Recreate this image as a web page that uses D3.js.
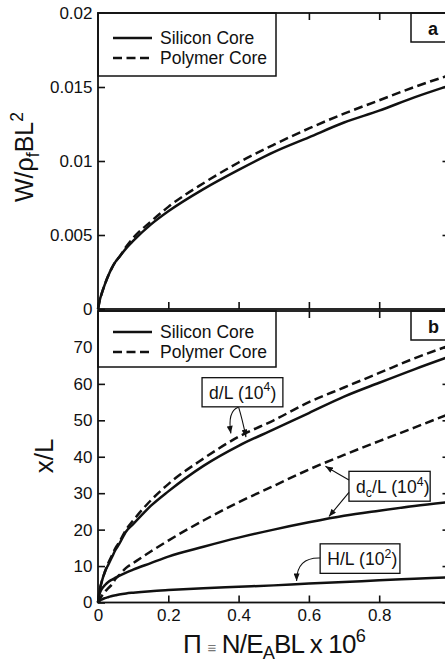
<!DOCTYPE html>
<html>
<head>
<meta charset="utf-8">
<script src="https://cdn.jsdelivr.net/npm/d3@7"></script>
<style>
  body { margin: 0; background: #fff; }
  svg { display: block; }
  text { font-family: "Liberation Sans", Arial, sans-serif; fill: #111; }
</style>
</head>
<body>
<svg id="chart" width="445" height="664"></svg>
<script>
// ---- data ----
const piVals = [0, 0.005, 0.01, 0.02, 0.03, 0.04, 0.05, 0.06, 0.08, 0.1, 0.15, 0.2, 0.3, 0.4, 0.5, 0.6, 0.7, 0.8, 0.9, 1.0];

// panel a : W / rho_f B L^2
const wSilicon = [0, 0.0006, 0.001, 0.0017, 0.0023, 0.0028, 0.0032, 0.0035, 0.0041, 0.0046, 0.0057, 0.0066, 0.0081, 0.0094, 0.0106, 0.0116, 0.0126, 0.0134, 0.0143, 0.0151];
const wPolymer = [0, 0.0006, 0.001, 0.0017, 0.0023, 0.0028, 0.0032, 0.0035, 0.0042, 0.0048, 0.0059, 0.0069, 0.0085, 0.0099, 0.0111, 0.0122, 0.0132, 0.0141, 0.0150, 0.0158];

// panel b : x / L
const dSilicon  = [0, 3.5, 5.5, 8.5, 10.5, 12.5, 14.5, 16, 19.5, 21.5, 26.5, 30.5, 37.5, 43, 47.5, 52, 56.5, 60.3, 64, 67.5];
const dPolymer  = [0, 3.5, 5.5, 8.5, 11, 13, 15, 16.5, 20, 22.5, 28, 32.5, 39.5, 45.5, 50, 55, 59, 63, 67, 70.5];
const dcSilicon = [0, 2.5, 3.6, 4.8, 5.7, 6.3, 6.8, 7.3, 8.2, 9, 10.8, 12.6, 15.3, 17.8, 20, 22, 23.8, 25.2, 26.5, 27.6];
const dcPolymer = [0, 1, 1.7, 3, 4, 5, 6.5, 7.5, 9.5, 10.8, 14, 17, 22.5, 27.5, 32, 36.5, 40.5, 44.3, 48, 51.8];
const hSilicon  = [0, 0.5, 0.8, 1.2, 1.5, 1.8, 2, 2.2, 2.5, 2.7, 3.1, 3.4, 3.9, 4.3, 4.7, 5.2, 5.6, 6.1, 6.5, 6.9];

const xTicks = [0, 0.2, 0.4, 0.6, 0.8, 1];
const xTickLabels = ["0", "0.2", "0.4", "0.6", "0.8", ""];
const wTicks = [0, 0.005, 0.01, 0.015, 0.02];
const wTickLabels = ["0", "0.005", "0.01", "0.015", "0.02"];
const xlTicks = [0, 10, 20, 30, 40, 50, 60, 70, 80];
const xlTickLabels = ["0", "10", "20", "30", "40", "50", "60", "70", ""];

const legendNames = ["Silicon Core", "Polymer Core"];

// callouts in panel b, in data units
const annotations = [
  { parts: [["d/L (10", 0], ["4", 1], [")", 0]], box: [0.296, 61.7, 0.526, 53.7],
    arrows: [{ from: [0.399, 53.6], ctrl: [0.368, 52.5], to: [0.378, 46.4] },
             { from: [0.400, 53.6], ctrl: [0.410, 50.5], to: [0.421, 45.4] }] },
  { parts: [["d", 0], ["c", -1], ["/L (10", 0], ["4", 1], [")", 0]], box: [0.714, 36.0, 0.945, 27.8],
    arrows: [{ from: [0.714, 33.6], ctrl: [0.680, 35.5], to: [0.647, 37.4] },
             { from: [0.714, 30.2], ctrl: [0.685, 26.8], to: [0.657, 23.6] }] },
  { parts: [["H/L (10", 0], ["2", 1], [")", 0]], box: [0.632, 16.1, 0.859, 8.0],
    arrows: [{ from: [0.632, 12.2], ctrl: [0.565, 12.4], to: [0.565, 5.9] }] }
];

// ---- layout ----
const svg = d3.select("#chart");
const x = d3.scaleLinear().domain([0, 1]).range([98, 449.5]);
const yTop = d3.scaleLinear().domain([0, 0.02]).range([309, 13]);
const yBot = d3.scaleLinear().domain([0, 80]).range([602.5, 311]);

svg.append("defs").append("marker")
  .attr("id", "arrow")
  .attr("viewBox", "0 0 10 8")
  .attr("refX", 10).attr("refY", 4)
  .attr("markerUnits", "userSpaceOnUse")
  .attr("markerWidth", 8).attr("markerHeight", 6)
  .attr("orient", "auto")
  .append("path").attr("d", "M0,0 L10,4 L0,8 Z").attr("fill", "#111");

function panel(y, ticks, tickLabels, showX) {
  const g = svg.append("g");
  const r = y.range();
  g.append("rect")
    .attr("x", x.range()[0]).attr("y", r[1])
    .attr("width", x.range()[1] - x.range()[0]).attr("height", r[0] - r[1])
    .attr("fill", "#fff");

  const left = g.append("g").attr("transform", `translate(${x.range()[0]},0)`)
    .call(d3.axisLeft(y).tickValues(ticks).tickSize(-7).tickPadding(5.5)
      .tickFormat((d, i) => tickLabels[i]));
  const right = g.append("g").attr("transform", `translate(${x.range()[1]},0)`)
    .call(d3.axisRight(y).tickValues(ticks).tickSize(-7).tickFormat(""));
  const top = g.append("g").attr("transform", `translate(0,${r[1]})`)
    .call(d3.axisTop(x).tickValues(xTicks).tickSize(-7).tickFormat(""));
  const bottom = g.append("g").attr("transform", `translate(0,${r[0]})`)
    .call(d3.axisBottom(x).tickValues(xTicks).tickSize(-7).tickPadding(6)
      .tickFormat((d, i) => showX ? xTickLabels[i] : ""));

  [left, right, top, bottom].forEach(a => {
    a.select(".domain").remove();
    a.selectAll(".tick line").attr("stroke", "#111").attr("stroke-width", 1.6);
    a.selectAll("text").attr("font-size", 17).attr("fill", "#111")
      .style("font-family", '"Liberation Sans", Arial, sans-serif');
  });
  return g;
}

function drawLines(g, y, series) {
  const line = d3.line()
    .x((d, i) => x(piVals[i]))
    .y(d => y(d))
    .curve(d3.curveMonotoneX);
  g.selectAll(null).data(series).enter().append("path")
    .attr("d", s => line(s.values))
    .attr("fill", "none")
    .attr("stroke", "#111")
    .attr("stroke-width", 2.5)
    .attr("stroke-dasharray", s => s.dashed ? "9,4.5" : null);
}

function frame(g, y) {
  const r = y.range();
  g.append("rect")
    .attr("x", x.range()[0]).attr("y", r[1])
    .attr("width", x.range()[1] - x.range()[0]).attr("height", r[0] - r[1])
    .attr("fill", "none").attr("stroke", "#111").attr("stroke-width", 1.8);
}

function legend(g, y) {
  const top = y.range()[1];
  g.append("rect")
    .attr("x", x.range()[0]).attr("y", top)
    .attr("width", 178).attr("height", y === yTop ? 63 : 56)
    .attr("fill", "#fff").attr("stroke", "#111").attr("stroke-width", 1.5);
  const off = y === yTop ? 25 : 21;
  legendNames.forEach((name, i) => {
    const yy = top + off + i * 20;
    g.append("line")
      .attr("x1", 113).attr("x2", 152).attr("y1", yy).attr("y2", yy)
      .attr("stroke", "#111").attr("stroke-width", 2.5)
      .attr("stroke-dasharray", i === 1 ? "9,4.5" : null);
    g.append("text").attr("x", 160).attr("y", yy + 6)
      .attr("font-size", 17.5).text(name);
  });
}

function panelTag(g, y, letter) {
  const top = y.range()[1];
  g.append("rect")
    .attr("x", 411).attr("y", top).attr("width", 60).attr("height", 29)
    .attr("fill", "#fff").attr("stroke", "#111").attr("stroke-width", 1.5);
  g.append("text").attr("x", 428).attr("y", top + 22)
    .attr("font-size", 18).attr("font-weight", "bold").text(letter);
}

function richText(sel, parts, size) {
  parts.forEach(([t, kind], i) => {
    const prev = i > 0 ? parts[i - 1][1] : 0;
    const shift = v => v === 1 ? -size * 0.42 : v === -1 ? size * 0.24 : 0;
    sel.append("tspan")
      .attr("dy", shift(kind) - shift(prev))
      .attr("font-size", kind === 0 ? size : size * 0.7)
      .text(t);
  });
}

// ---- panel b (bottom) ----
const gb = panel(yBot, xlTicks, xlTickLabels, true);
drawLines(gb, yBot, [
  { values: dPolymer, dashed: true },
  { values: dSilicon, dashed: false },
  { values: dcPolymer, dashed: true },
  { values: dcSilicon, dashed: false },
  { values: hSilicon, dashed: false }
]);

annotations.forEach(a => {
  const [x0, y0, x1, y1] = a.box;
  gb.append("rect")
    .attr("x", x(x0)).attr("y", yBot(y0))
    .attr("width", x(x1) - x(x0)).attr("height", yBot(y1) - yBot(y0))
    .attr("fill", "#fff").attr("stroke", "#111").attr("stroke-width", 1.3);
  const t = gb.append("text").attr("x", x(x0) + 7).attr("y", yBot(y1) - 8)
    .attr("letter-spacing", 0.1);
  richText(t, a.parts, 17.5);
  a.arrows.forEach(ar => {
    const p = d3.path();
    p.moveTo(x(ar.from[0]), yBot(ar.from[1]));
    p.quadraticCurveTo(x(ar.ctrl[0]), yBot(ar.ctrl[1]), x(ar.to[0]), yBot(ar.to[1]));
    gb.append("path").attr("d", p.toString())
      .attr("fill", "none").attr("stroke", "#111").attr("stroke-width", 1.1)
      .attr("marker-end", "url(#arrow)");
  });
});
legend(gb, yBot);
panelTag(gb, yBot, "b");
frame(gb, yBot);

// ---- panel a (top) ----
const ga = panel(yTop, wTicks, wTickLabels, false);
drawLines(ga, yTop, [
  { values: wPolymer, dashed: true },
  { values: wSilicon, dashed: false }
]);
legend(ga, yTop);
panelTag(ga, yTop, "a");
frame(ga, yTop);

// ---- axis titles ----
const ta = svg.append("text")
  .attr("transform", "translate(33,157) rotate(-90)")
  .attr("text-anchor", "middle");
richText(ta, [["W/\u03c1", 0], ["f", -1], ["BL", 0], ["2", 1]], 25);

svg.append("text")
  .attr("transform", "translate(53,456) rotate(-90)")
  .attr("text-anchor", "middle")
  .attr("font-size", 26)
  .text("x/L");

const tx = svg.append("text")
  .attr("x", 274).attr("y", 653)
  .attr("text-anchor", "middle")
  .attr("letter-spacing", -0.8);
richText(tx, [["\u03a0 ", 0]], 26);
tx.append("tspan").attr("font-size", 15).attr("fill", "#777").text("\u2261");
richText(tx, [[" N/E", 0], ["A", -1], ["BL x 10", 0], ["6", 1]], 26);
</script>
</body>
</html>
